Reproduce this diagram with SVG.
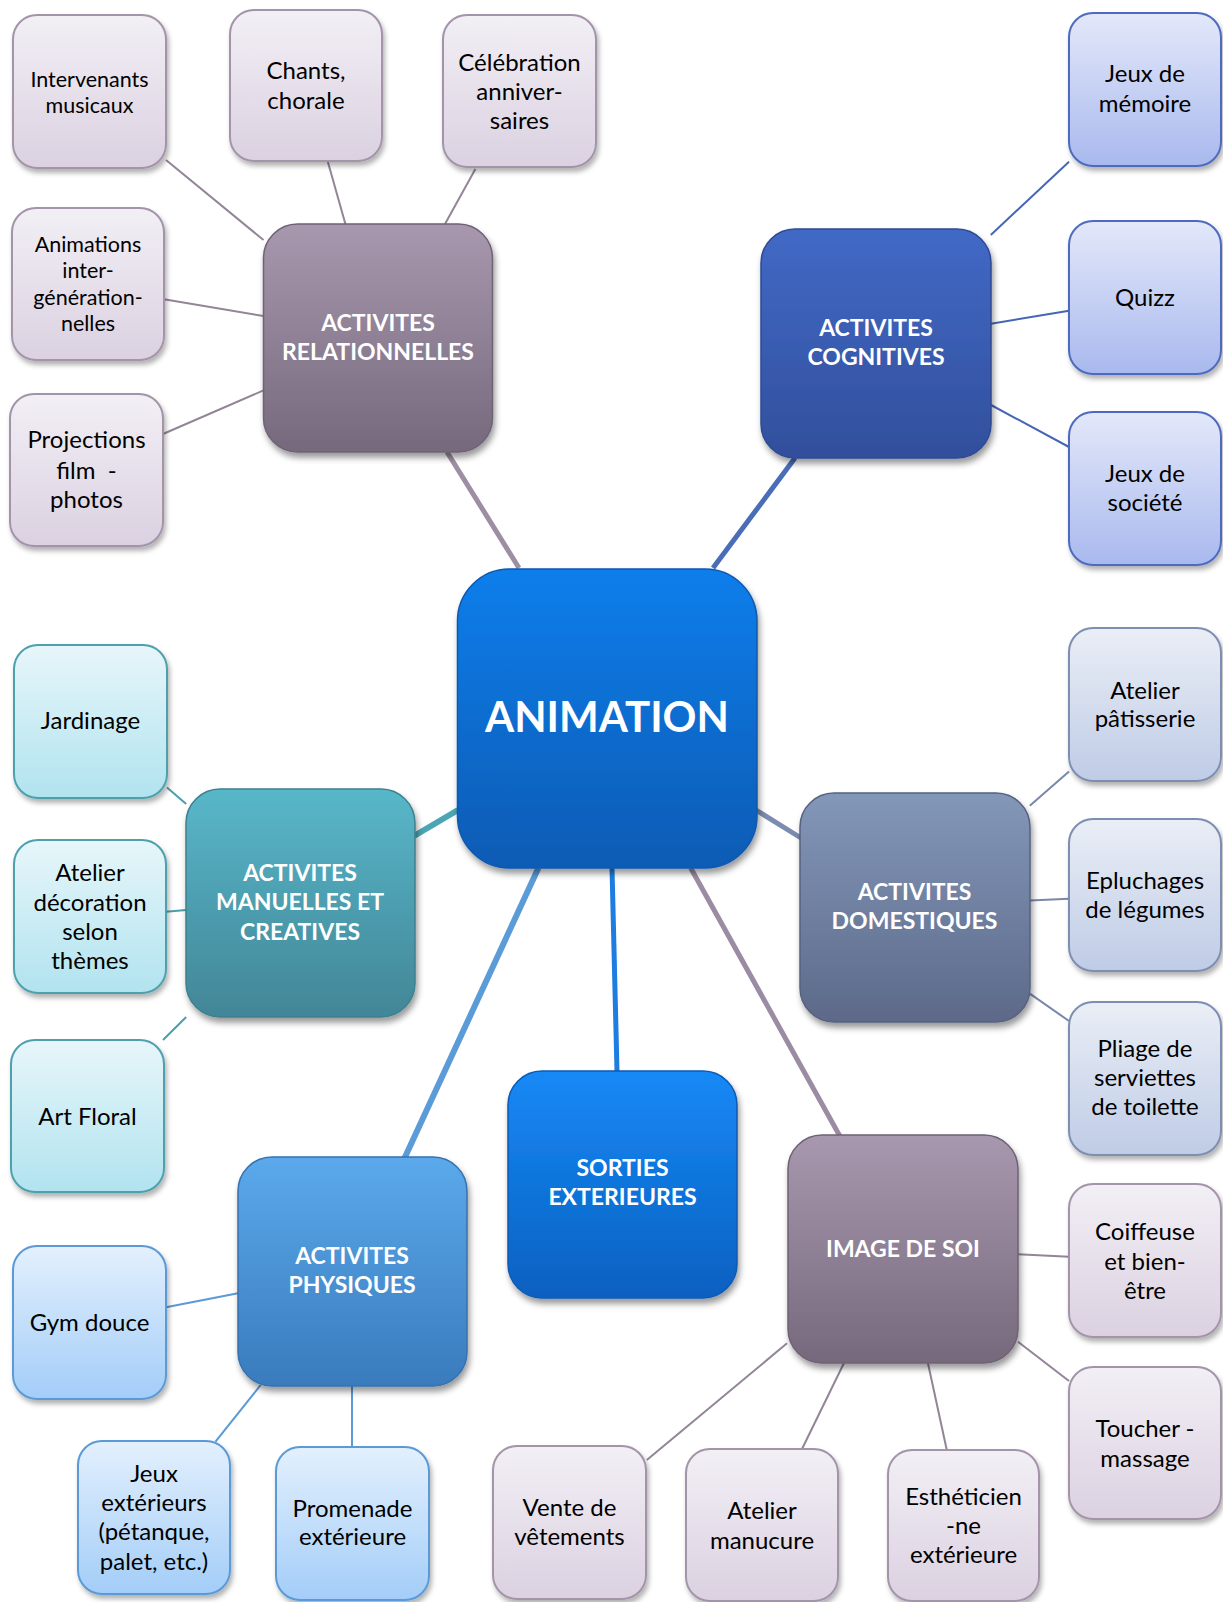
<svg xmlns="http://www.w3.org/2000/svg" width="1223" height="1602" viewBox="0 0 1223 1602">
<defs>
<style>
.lt{font-family:Lato,"Open Sans","Liberation Sans",sans-serif;font-size:24px;fill:#000;text-anchor:middle;white-space:pre}
.ls{font-family:Lato,"Open Sans","Liberation Sans",sans-serif;font-size:21.5px;fill:#000;text-anchor:middle}
.ht{font-family:Lato,"Open Sans","Liberation Sans",sans-serif;font-size:23px;font-weight:bold;fill:#fff;text-anchor:middle}
.at{font-family:Lato,"Open Sans","Liberation Sans",sans-serif;font-size:42px;font-weight:bold;fill:#fff;text-anchor:middle}
.leaf{stroke-width:2;filter:url(#sh)}
.hub{stroke-width:1.5;filter:url(#sh2)}
#connectors line{stroke-linecap:butt;fill:none}
.c-rel{stroke:#938498;stroke-width:2}
.c-cog{stroke:#4565B5;stroke-width:2}
.c-man{stroke:#4A9FAC;stroke-width:2}
.c-dom{stroke:#7888AA;stroke-width:2}
.c-phy{stroke:#5A9AD6;stroke-width:2}
.h-rel{stroke:#9D8EA3;stroke-width:5}
.h-cog{stroke:#4A6DB8;stroke-width:5}
.h-man{stroke:#4BA5B5;stroke-width:6}
.h-dom{stroke:#7B8CB0;stroke-width:5}
.h-phy{stroke:#5B9BD7;stroke-width:6}
.h-sor{stroke:#1D7DE0;stroke-width:5}
.h-img{stroke:#9B8CA3;stroke-width:5}
</style>
<filter id="sh" x="-10%" y="-10%" width="125%" height="125%">
<feDropShadow dx="2" dy="4" stdDeviation="2.5" flood-color="#000" flood-opacity="0.3"/>
</filter>
<filter id="sh2" x="-10%" y="-10%" width="125%" height="125%">
<feDropShadow dx="2" dy="5" stdDeviation="3" flood-color="#000" flood-opacity="0.4"/>
</filter>
<linearGradient id="g-relL" x1="0" y1="0" x2="0" y2="1"><stop offset="0" stop-color="#F2EFF5"/><stop offset="1" stop-color="#DBD1E1"/></linearGradient>
<linearGradient id="g-relH" x1="0" y1="0" x2="0" y2="1"><stop offset="0" stop-color="#A898AF"/><stop offset="1" stop-color="#76697C"/></linearGradient>
<linearGradient id="g-cogL" x1="0" y1="0" x2="0" y2="1"><stop offset="0" stop-color="#E3E8F9"/><stop offset="1" stop-color="#A9B9EE"/></linearGradient>
<linearGradient id="g-cogH" x1="0" y1="0" x2="0" y2="1"><stop offset="0" stop-color="#4169C6"/><stop offset="1" stop-color="#324F9C"/></linearGradient>
<linearGradient id="g-manL" x1="0" y1="0" x2="0" y2="1"><stop offset="0" stop-color="#E7F6FA"/><stop offset="1" stop-color="#B1E3EF"/></linearGradient>
<linearGradient id="g-manH" x1="0" y1="0" x2="0" y2="1"><stop offset="0" stop-color="#58B7C9"/><stop offset="1" stop-color="#428697"/></linearGradient>
<linearGradient id="g-domL" x1="0" y1="0" x2="0" y2="1"><stop offset="0" stop-color="#EAEEF6"/><stop offset="1" stop-color="#BFCCE6"/></linearGradient>
<linearGradient id="g-domH" x1="0" y1="0" x2="0" y2="1"><stop offset="0" stop-color="#8397B9"/><stop offset="1" stop-color="#5D6989"/></linearGradient>
<linearGradient id="g-phyL" x1="0" y1="0" x2="0" y2="1"><stop offset="0" stop-color="#E3F0FD"/><stop offset="1" stop-color="#A3CDF8"/></linearGradient>
<linearGradient id="g-phyH" x1="0" y1="0" x2="0" y2="1"><stop offset="0" stop-color="#5BA9EB"/><stop offset="1" stop-color="#397BBD"/></linearGradient>
<linearGradient id="g-sor" x1="0" y1="0" x2="0" y2="1"><stop offset="0" stop-color="#1689F6"/><stop offset="1" stop-color="#0A60C0"/></linearGradient>
<linearGradient id="g-anim" x1="0" y1="0" x2="0" y2="1"><stop offset="0" stop-color="#0E7EEB"/><stop offset="1" stop-color="#0A5BB4"/></linearGradient>
</defs>
<rect width="1223" height="1602" fill="#fff"/>

<g id="connectors">
<line class="h-rel" x1="447" y1="452" x2="519" y2="568"/>
<line class="h-cog" x1="795" y1="458" x2="713" y2="568"/>
<line class="h-man" x1="414" y1="836" x2="458" y2="810"/>
<line class="h-dom" x1="756" y1="810" x2="801" y2="838"/>
<line class="h-phy" x1="538.4" y1="868" x2="404.6" y2="1158"/>
<line class="h-sor" x1="612" y1="868" x2="617" y2="1071"/>
<line class="h-img" x1="690.7" y1="868" x2="839.8" y2="1136"/>
<line class="c-rel" x1="166" y1="160" x2="263.5" y2="240"/>
<line class="c-rel" x1="327.9" y1="162" x2="345.4" y2="224"/>
<line class="c-rel" x1="475.4" y1="169" x2="445" y2="224"/>
<line class="c-rel" x1="164" y1="299.3" x2="263.5" y2="316"/>
<line class="c-rel" x1="163" y1="434" x2="263.5" y2="390.4"/>
<line class="c-cog" x1="990.8" y1="234.9" x2="1069" y2="161.7"/>
<line class="c-cog" x1="991" y1="323.7" x2="1069" y2="310.8"/>
<line class="c-cog" x1="991" y1="405" x2="1069" y2="447"/>
<line class="c-man" x1="167" y1="787.5" x2="186.2" y2="804"/>
<line class="c-man" x1="166" y1="911.8" x2="186.2" y2="910"/>
<line class="c-man" x1="163" y1="1040" x2="186.2" y2="1017"/>
<line class="c-dom" x1="1029.8" y1="805.7" x2="1069" y2="771.6"/>
<line class="c-dom" x1="1029.8" y1="900.6" x2="1069" y2="898.7"/>
<line class="c-dom" x1="1029.8" y1="993.6" x2="1069" y2="1021"/>
<line class="c-phy" x1="166" y1="1307.3" x2="238" y2="1293.3"/>
<line class="c-phy" x1="215.5" y1="1441.7" x2="260.7" y2="1385"/>
<line class="c-phy" x1="352" y1="1386" x2="352" y2="1447"/>
<line class="c-rel" x1="1018" y1="1254.3" x2="1069" y2="1256.7"/>
<line class="c-rel" x1="1018" y1="1341.7" x2="1069" y2="1381"/>
<line class="c-rel" x1="787" y1="1343.3" x2="646.8" y2="1460"/>
<line class="c-rel" x1="844" y1="1363" x2="802" y2="1449"/>
<line class="c-rel" x1="927.9" y1="1363" x2="946.8" y2="1450"/>
</g>

<!-- Relationnelles -->
<g id="n-intervenants"><rect class="leaf" x="13" y="15" width="153" height="153" rx="24" fill="url(#g-relL)" stroke="#A394AA"/>
<text class="ls" x="89.5" y="87">Intervenants</text><text class="ls" x="89.5" y="113.1">musicaux</text></g>
<g id="n-chants"><rect class="leaf" x="230" y="10" width="152" height="151" rx="24" fill="url(#g-relL)" stroke="#A394AA"/>
<text class="lt" x="306" y="78.6">Chants,</text><text class="lt" x="306" y="108.6">chorale</text></g>
<g id="n-celebration"><rect class="leaf" x="443" y="15" width="153" height="152" rx="24" fill="url(#g-relL)" stroke="#A394AA"/>
<text class="lt" x="519.5" y="70.6">Célébration</text><text class="lt" x="519.5" y="100.1">anniver-</text><text class="lt" x="519.5" y="129.1">saires</text></g>
<g id="n-animations"><rect class="leaf" x="12" y="208" width="152" height="152" rx="24" fill="url(#g-relL)" stroke="#A394AA"/>
<text class="ls" x="88" y="252.2">Animations</text><text class="ls" x="88" y="278.4">inter-</text><text class="ls" x="88" y="305.3">génération-</text><text class="ls" x="88" y="331">nelles</text></g>
<g id="n-projections"><rect class="leaf" x="10" y="394" width="153" height="152" rx="24" fill="url(#g-relL)" stroke="#A394AA"/>
<text class="lt" x="86.5" y="448.1">Projections</text><text class="lt" x="86.5" y="478.6">film  -</text><text class="lt" x="86.5" y="508.1">photos</text></g>
<g id="h-relationnelles"><rect class="hub" x="263.5" y="224" width="229" height="228" rx="34" fill="url(#g-relH)" stroke="#6E6274"/>
<text class="ht" x="378" y="330.8">ACTIVITES</text><text class="ht" x="378" y="359.8">RELATIONNELLES</text></g>

<!-- Cognitives -->
<g id="n-memoire"><rect class="leaf" x="1069" y="13" width="152" height="153" rx="24" fill="url(#g-cogL)" stroke="#4D6BC0"/>
<text class="lt" x="1145" y="82.4">Jeux de</text><text class="lt" x="1145" y="112">mémoire</text></g>
<g id="n-quizz"><rect class="leaf" x="1069" y="221" width="152" height="153" rx="24" fill="url(#g-cogL)" stroke="#4D6BC0"/>
<text class="lt" x="1145" y="306.1">Quizz</text></g>
<g id="n-societe"><rect class="leaf" x="1069" y="412" width="152" height="153" rx="24" fill="url(#g-cogL)" stroke="#4D6BC0"/>
<text class="lt" x="1145" y="481.9">Jeux de</text><text class="lt" x="1145" y="511">société</text></g>
<g id="h-cognitives"><rect class="hub" x="761" y="229" width="230" height="229" rx="34" fill="url(#g-cogH)" stroke="#2F4A94"/>
<text class="ht" x="876" y="335.7">ACTIVITES</text><text class="ht" x="876" y="365.3">COGNITIVES</text></g>

<!-- Manuelles -->
<g id="n-jardinage"><rect class="leaf" x="14" y="645" width="153" height="153" rx="24" fill="url(#g-manL)" stroke="#4DA1AD"/>
<text class="lt" x="90.5" y="729.1">Jardinage</text></g>
<g id="n-decoration"><rect class="leaf" x="14" y="840" width="152" height="153" rx="24" fill="url(#g-manL)" stroke="#4DA1AD"/>
<text class="lt" x="90" y="881.1">Atelier</text><text class="lt" x="90" y="910.6">décoration</text><text class="lt" x="90" y="939.6">selon</text><text class="lt" x="90" y="968.8">thèmes</text></g>
<g id="n-artfloral"><rect class="leaf" x="11" y="1040" width="153" height="152" rx="24" fill="url(#g-manL)" stroke="#4DA1AD"/>
<text class="lt" x="87.5" y="1125.1">Art Floral</text></g>
<g id="h-manuelles"><rect class="hub" x="186" y="789" width="229" height="228" rx="34" fill="url(#g-manH)" stroke="#3E8090"/>
<text class="ht" x="300" y="880.8">ACTIVITES</text><text class="ht" x="300" y="910.1">MANUELLES ET</text><text class="ht" x="300" y="939.7">CREATIVES</text></g>

<!-- Domestiques -->
<g id="n-patisserie"><rect class="leaf" x="1069" y="628" width="152" height="153" rx="24" fill="url(#g-domL)" stroke="#7E8EB0"/>
<text class="lt" x="1145" y="698.6">Atelier</text><text class="lt" x="1145" y="727.2">pâtisserie</text></g>
<g id="n-epluchages"><rect class="leaf" x="1069" y="819" width="152" height="152" rx="24" fill="url(#g-domL)" stroke="#7E8EB0"/>
<text class="lt" x="1145" y="888.8">Epluchages</text><text class="lt" x="1145" y="918.4">de légumes</text></g>
<g id="n-pliage"><rect class="leaf" x="1069" y="1002" width="152" height="153" rx="24" fill="url(#g-domL)" stroke="#7E8EB0"/>
<text class="lt" x="1145" y="1057.2">Pliage de</text><text class="lt" x="1145" y="1086.4">serviettes</text><text class="lt" x="1145" y="1115.1">de toilette</text></g>
<g id="h-domestiques"><rect class="hub" x="800" y="793" width="230" height="229" rx="34" fill="url(#g-domH)" stroke="#56627F"/>
<text class="ht" x="914.5" y="899.8">ACTIVITES</text><text class="ht" x="914.5" y="928.8">DOMESTIQUES</text></g>

<!-- Physiques -->
<g id="n-gym"><rect class="leaf" x="13" y="1246" width="153" height="153" rx="24" fill="url(#g-phyL)" stroke="#5A9AD6"/>
<text class="lt" x="89.5" y="1331.1">Gym douce</text></g>
<g id="n-jeuxext"><rect class="leaf" x="78" y="1441" width="152" height="153" rx="24" fill="url(#g-phyL)" stroke="#5A9AD6"/>
<text class="lt" x="154" y="1481.9">Jeux</text><text class="lt" x="154" y="1511.4">extérieurs</text><text class="lt" x="154" y="1540.1">(pétanque,</text><text class="lt" x="154" y="1569.6">palet, etc.)</text></g>
<g id="n-promenade"><rect class="leaf" x="276" y="1447" width="153" height="153" rx="24" fill="url(#g-phyL)" stroke="#5A9AD6"/>
<text class="lt" x="352.5" y="1516.9">Promenade</text><text class="lt" x="352.5" y="1545.3">extérieure</text></g>
<g id="h-physiques"><rect class="hub" x="238" y="1157" width="229" height="229" rx="34" fill="url(#g-phyH)" stroke="#3672AE"/>
<text class="ht" x="352" y="1264.3">ACTIVITES</text><text class="ht" x="352" y="1293.3">PHYSIQUES</text></g>

<!-- Sorties -->
<g id="h-sorties"><rect class="hub" x="508" y="1071" width="229" height="227" rx="34" fill="url(#g-sor)" stroke="#0A5AB4"/>
<text class="ht" x="622.5" y="1176.3">SORTIES</text><text class="ht" x="622.5" y="1204.8">EXTERIEURES</text></g>

<!-- Image de soi -->
<g id="n-coiffeuse"><rect class="leaf" x="1069" y="1184" width="152" height="153" rx="24" fill="url(#g-relL)" stroke="#A394AA"/>
<text class="lt" x="1145" y="1239.6">Coiffeuse</text><text class="lt" x="1145" y="1269.6">et bien-</text><text class="lt" x="1145" y="1298.6">être</text></g>
<g id="n-toucher"><rect class="leaf" x="1069" y="1367" width="152" height="152" rx="24" fill="url(#g-relL)" stroke="#A394AA"/>
<text class="lt" x="1145" y="1436.9">Toucher -</text><text class="lt" x="1145" y="1466.6">massage</text></g>
<g id="n-vente"><rect class="leaf" x="493" y="1446" width="153" height="153" rx="24" fill="url(#g-relL)" stroke="#A394AA"/>
<text class="lt" x="569.5" y="1516.1">Vente de</text><text class="lt" x="569.5" y="1545.1">vêtements</text></g>
<g id="n-manucure"><rect class="leaf" x="686" y="1449" width="152" height="152" rx="24" fill="url(#g-relL)" stroke="#A394AA"/>
<text class="lt" x="762" y="1518.6">Atelier</text><text class="lt" x="762" y="1548.6">manucure</text></g>
<g id="n-estheticienne"><rect class="leaf" x="888" y="1450" width="151" height="151" rx="24" fill="url(#g-relL)" stroke="#A394AA"/>
<text class="lt" x="963.5" y="1505.1">Esthéticien</text><text class="lt" x="963.5" y="1534.1">-ne</text><text class="lt" x="963.5" y="1563.1">extérieure</text></g>
<g id="h-image"><rect class="hub" x="788" y="1135" width="230" height="228" rx="34" fill="url(#g-relH)" stroke="#6E6274"/>
<text class="ht" x="903" y="1257.3">IMAGE DE SOI</text></g>

<!-- Center -->
<g id="n-animation"><rect class="hub" x="457.5" y="569" width="299.5" height="299" rx="52" fill="url(#g-anim)" stroke="#0A58B0"/>
<text class="at" x="607" y="732">ANIMATION</text></g>
</svg>
